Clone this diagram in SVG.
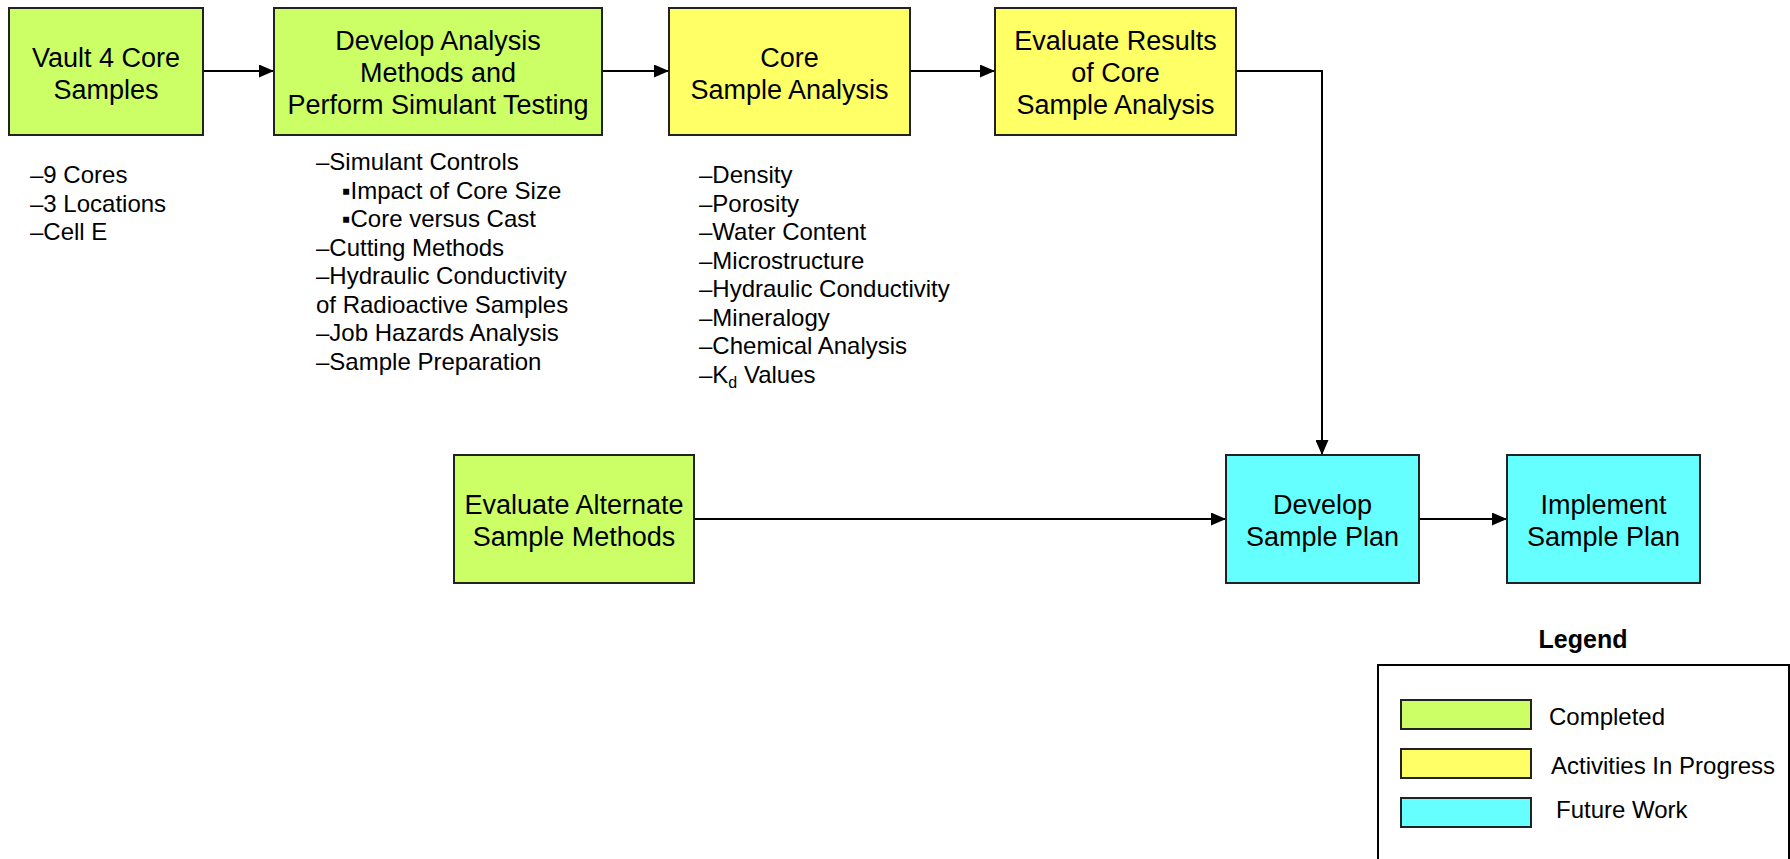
<svg xmlns="http://www.w3.org/2000/svg" width="1790" height="859" viewBox="0 0 1790 859">
<style>
.box{stroke:#222;stroke-width:2}
.g{fill:#CCFF66}.y{fill:#FFFF66}.c{fill:#66FFFF}
.t{font-family:"Liberation Sans",Arial,sans-serif;font-size:27px;fill:#000;text-anchor:middle}
.l{font-family:"Liberation Sans",Arial,sans-serif;font-size:24px;fill:#000}
.h{font-family:"Liberation Sans",Arial,sans-serif;font-size:25px;font-weight:bold;fill:#000;text-anchor:middle}
.e{fill:none;stroke:#000;stroke-width:2}
</style>
<defs>
<marker id="ar" viewBox="0 0 15 13" refX="15" refY="6.5" markerWidth="15" markerHeight="13" markerUnits="userSpaceOnUse" orient="auto">
<path d="M0,0 L15,6.5 L0,13 Z" fill="#000"/>
</marker>
</defs>
<rect width="1790" height="859" fill="#fff"/>
<g id="connectors">
<line class="e" x1="203" y1="71" x2="274" y2="71" marker-end="url(#ar)"/>
<line class="e" x1="602" y1="71" x2="669" y2="71" marker-end="url(#ar)"/>
<line class="e" x1="910" y1="71" x2="995" y2="71" marker-end="url(#ar)"/>
<polyline class="e" points="1236,71 1322,71 1322,455" marker-end="url(#ar)"/>
<line class="e" x1="694" y1="519" x2="1226" y2="519" marker-end="url(#ar)"/>
<line class="e" x1="1419" y1="519" x2="1507" y2="519" marker-end="url(#ar)"/>
</g>
<g id="vault4">
<rect class="box g" x="9" y="8" width="194" height="127"/>
<text class="t" x="106" y="67">Vault 4 Core</text>
<text class="t" x="106" y="99">Samples</text>
</g>
<g id="develop-analysis">
<rect class="box g" x="274" y="8" width="328" height="127"/>
<text class="t" x="438" y="50">Develop Analysis</text>
<text class="t" x="438" y="82">Methods and</text>
<text class="t" x="438" y="114">Perform Simulant Testing</text>
</g>
<g id="core-analysis">
<rect class="box y" x="669" y="8" width="241" height="127"/>
<text class="t" x="789.5" y="67">Core</text>
<text class="t" x="789.5" y="99">Sample Analysis</text>
</g>
<g id="evaluate-results">
<rect class="box y" x="995" y="8" width="241" height="127"/>
<text class="t" x="1115.5" y="50">Evaluate Results</text>
<text class="t" x="1115.5" y="82">of Core</text>
<text class="t" x="1115.5" y="114">Sample Analysis</text>
</g>
<g id="evaluate-alternate">
<rect class="box g" x="454" y="455" width="240" height="128"/>
<text class="t" x="574" y="514">Evaluate Alternate</text>
<text class="t" x="574" y="546">Sample Methods</text>
</g>
<g id="develop-plan">
<rect class="box c" x="1226" y="455" width="193" height="128"/>
<text class="t" x="1322.5" y="514">Develop</text>
<text class="t" x="1322.5" y="546">Sample Plan</text>
</g>
<g id="implement-plan">
<rect class="box c" x="1507" y="455" width="193" height="128"/>
<text class="t" x="1603.5" y="514">Implement</text>
<text class="t" x="1603.5" y="546">Sample Plan</text>
</g>
<g id="list-vault">
<text class="l" x="30" y="183">–9 Cores</text>
<text class="l" x="30" y="211.5">–3 Locations</text>
<text class="l" x="30" y="240">–Cell E</text>
</g>
<g id="list-develop">
<text class="l" x="316" y="170">–Simulant Controls</text>
<text class="l" x="342" y="198.5">▪Impact of Core Size</text>
<text class="l" x="342" y="227">▪Core versus Cast</text>
<text class="l" x="316" y="255.5">–Cutting Methods</text>
<text class="l" x="316" y="284">–Hydraulic Conductivity</text>
<text class="l" x="316" y="312.5">of Radioactive Samples</text>
<text class="l" x="316" y="341">–Job Hazards Analysis</text>
<text class="l" x="316" y="369.5">–Sample Preparation</text>
</g>
<g id="list-core">
<text class="l" x="699" y="183">–Density</text>
<text class="l" x="699" y="211.5">–Porosity</text>
<text class="l" x="699" y="240">–Water Content</text>
<text class="l" x="699" y="268.5">–Microstructure</text>
<text class="l" x="699" y="297">–Hydraulic Conductivity</text>
<text class="l" x="699" y="325.5">–Mineralogy</text>
<text class="l" x="699" y="354">–Chemical Analysis</text>
<text class="l" x="699" y="382.5">–K<tspan font-size="16" dy="5">d</tspan><tspan dy="-5"> Values</tspan></text>
</g>
<g id="legend">
<text class="h" x="1583" y="648">Legend</text>
<rect x="1378" y="665" width="411" height="260" fill="#fff" stroke="#000" stroke-width="2"/>
<rect class="box g" x="1401" y="700" width="130" height="29"/>
<rect class="box y" x="1401" y="749" width="130" height="29"/>
<rect class="box c" x="1401" y="798" width="130" height="29"/>
<text class="l" x="1549" y="725">Completed</text>
<text class="l" x="1551" y="774">Activities In Progress</text>
<text class="l" x="1556" y="818">Future Work</text>
</g>
</svg>
